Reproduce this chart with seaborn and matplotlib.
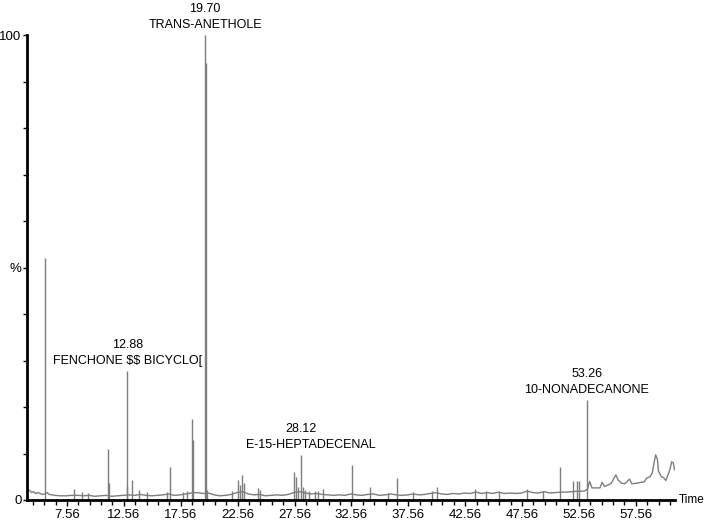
import matplotlib
matplotlib.use("Agg")
import matplotlib.pyplot as plt
import seaborn as sns
import pandas as pd
import numpy as np
from matplotlib.ticker import FixedLocator, MultipleLocator

# ---------------- data ----------------
base_t = [4.05, 4.15, 4.3, 4.45, 4.6, 4.8, 5.0, 5.2, 5.4, 5.6, 5.8, 6.0, 6.5, 7.0, 7.5,
          8.0, 8.5, 9.0, 9.5, 10.0, 10.5, 11.0, 11.5, 12.0, 12.5, 13.0, 13.5, 14.0, 14.5,
          15.0, 15.5, 16.0, 16.5, 17.0, 17.5, 18.0, 18.5, 19.0, 19.5, 20.0, 20.5, 21.0,
          21.5, 22.0, 22.5, 23.0, 23.5, 24.0, 24.5, 25.0, 25.5, 26.0, 26.5, 27.0, 27.5,
          28.0, 28.5, 29.0, 29.5, 30.0, 30.5, 31.0, 31.5, 32.0, 32.5, 33.0, 33.5, 34.0,
          34.5, 35.0, 35.5, 36.0, 36.5, 37.0, 37.5, 38.0, 38.5, 39.0, 39.5, 40.0, 40.5,
          41.0, 41.5, 42.0, 42.5, 43.0, 43.5, 44.0, 44.5, 45.0, 45.5, 46.0, 46.5, 47.0,
          47.5, 48.0, 48.5, 49.0, 49.5, 50.0, 50.5, 51.0, 51.5, 52.0, 52.5, 53.0, 53.3,
          53.5, 53.7, 54.0, 54.4, 54.6, 54.8, 55.1, 55.4, 55.8, 56.0, 56.3, 56.6, 57.0,
          57.2, 57.6, 58.0, 58.3, 58.5, 58.8, 59.0, 59.2, 59.3, 59.45, 59.55, 59.8, 60.0,
          60.2, 60.4, 60.55, 60.7, 60.85, 60.95]
base_y = [3.0, 2.2, 2.0, 1.6, 1.8, 1.4, 1.6, 1.4, 1.2, 1.3, 1.6, 1.2, 1.0, 0.9, 0.9,
          1.0, 1.0, 0.9, 1.0, 0.8, 0.9, 1.0, 0.8, 0.9, 1.0, 1.1, 1.0, 1.2, 1.0,
          0.9, 1.0, 1.1, 1.3, 1.0, 1.1, 1.3, 1.5, 1.6, 1.4, 1.5, 1.1, 0.9,
          1.0, 1.2, 1.6, 1.8, 1.3, 1.1, 1.2, 0.9, 1.0, 1.1, 1.0, 1.2, 1.6,
          1.8, 1.5, 1.3, 1.4, 1.2, 1.1, 1.0, 1.1, 1.0, 1.3, 1.1, 1.0, 1.2,
          1.3, 1.0, 1.1, 1.3, 1.1, 1.0, 1.1, 1.3, 1.1, 1.2, 1.4, 1.6, 1.3,
          1.2, 1.4, 1.3, 1.5, 1.4, 1.7, 1.4, 1.6, 1.4, 1.7, 1.4, 1.5, 1.4,
          1.5, 1.9, 1.6, 1.5, 1.8, 1.5, 1.6, 1.7, 1.7, 1.8, 1.9, 1.9, 2.3,
          4.0, 2.6, 2.6, 2.6, 3.8, 2.9, 3.2, 3.6, 5.4, 4.3, 3.6, 3.5, 4.5,
          3.5, 3.6, 3.8, 3.9, 4.7, 5.0, 5.8, 8.5, 9.7, 8.8, 6.2, 5.0, 4.8,
          4.2, 5.5, 6.5, 8.2, 8.0, 6.5]

peak_t = [5.63, 8.2, 8.9, 9.4, 11.16, 11.25, 12.80, 12.88, 13.27, 13.9, 14.6, 16.35,
          16.6, 17.75, 18.1, 18.55, 18.62, 19.70, 19.76, 19.86, 22.06, 22.6, 22.76,
          22.95, 23.1, 24.35, 24.5, 27.5, 27.7, 27.85, 28.12, 28.3, 28.5, 28.8, 29.35,
          29.6, 30.06, 32.6, 34.2, 35.8, 36.56, 37.96, 39.6, 40.1, 43.4, 44.4, 45.5,
          48.0, 49.4, 50.9, 52.0, 52.4, 52.6, 53.26]
peak_h = [52.0, 2.4, 1.7, 1.5, 10.9, 3.6, 3.0, 27.8, 4.3, 2.2, 1.8, 1.8,
          7.0, 1.7, 2.0, 17.5, 13.0, 100.0, 94.0, 2.2, 2.0, 4.3, 3.2,
          5.4, 3.6, 2.6, 2.2, 6.0, 5.0, 2.8, 9.7, 2.8, 2.2, 1.9, 1.9,
          2.0, 2.3, 7.5, 2.8, 1.6, 4.7, 1.7, 1.9, 2.8, 2.4, 2.0, 1.8,
          2.4, 2.0, 7.0, 4.0, 4.0, 4.0, 21.5]

label_t = [19.70, 12.88, 28.12, 53.26]
label_h = [100.0, 27.8, 9.7, 21.5]
label_num = ["19.70", "12.88", "28.12", "53.26"]
label_name = ["TRANS-ANETHOLE", "FENCHONE $$ BICYCLO[", "E-15-HEPTADECENAL", "10-NONADECANONE"]

major_ticks = [7.56, 12.56, 17.56, 22.56, 27.56, 32.56, 37.56, 42.56, 47.56, 52.56, 57.56]
major_labels = ["7.56", "12.56", "17.56", "22.56", "27.56", "32.56", "37.56",
                "42.56", "47.56", "52.56", "57.56"]

# ---------------- plotting ----------------
sns.set_style("ticks")
plt.rcParams['font.family'] = ['Liberation Sans', 'DejaVu Sans']
plt.rcParams['text.parse_math'] = False

FS = 9
W, H = 708, 523
fig = plt.figure(figsize=(W / 100, H / 100), dpi=100)
ax = fig.add_axes([27 / W, 23 / H, (675 - 27) / W, (500 - 35) / H])

gray = "#7d7d7d"
df = pd.DataFrame({"t": base_t, "y": base_y})
sns.lineplot(data=df, x="t", y="y", ax=ax, color=gray, linewidth=1.0, estimator=None, sort=False)
ax.vlines(peak_t, 0, peak_h, color=gray, linewidth=1.0)

ax.set_xlim(4.05, 61.0)
ax.set_ylim(0, 100)
ax.set_xlabel("")
ax.set_ylabel("")

sns.despine(ax=ax)
for s in ("left", "bottom"):
    ax.spines[s].set_linewidth(2.0)
    ax.spines[s].set_color("black")

ax.xaxis.set_major_locator(FixedLocator(major_ticks))
ax.set_xticklabels(major_labels)
ax.xaxis.set_minor_locator(FixedLocator([4.56 + i for i in range(57)]))
ax.set_yticks([0, 50, 100])
ax.set_yticklabels(["0", "%", "100"])
ax.yaxis.set_minor_locator(MultipleLocator(10))
ax.tick_params(axis="x", which="major", length=4.5, width=1.0, pad=2, labelsize=FS + 0.5, colors="black")
ax.tick_params(axis="x", which="minor", length=3.5, width=1.0, colors="black")
ax.tick_params(axis="y", which="major", length=3, width=1.0, pad=1, labelsize=FS + 0.5, colors="black")
ax.tick_params(axis="y", which="minor", length=3, width=1.0, colors="black")

for t, h, num, name in zip(label_t, label_h, label_num, label_name):
    dx = 10 if name.startswith("E-15") else 0
    ax.annotate(name, xy=(t, h), xytext=(dx, 4), textcoords="offset pixels",
                ha="center", va="bottom", fontsize=FS, color="black", annotation_clip=False)
    ax.annotate(num, xy=(t, h), xytext=(0, 20), textcoords="offset pixels",
                ha="center", va="bottom", fontsize=FS, color="black", annotation_clip=False)

fig.text(679 / W, 1 - 500 / H, "Time", ha="left", va="center", fontsize=8.5, color="black")

fig.savefig("out.png", dpi=100, facecolor="white")
